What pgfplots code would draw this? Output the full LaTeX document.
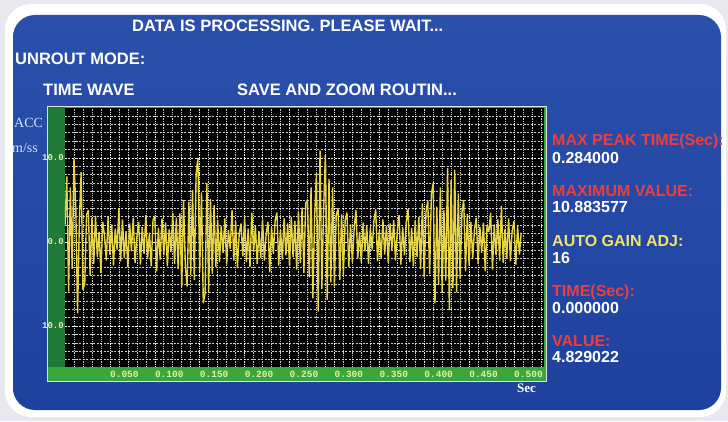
\documentclass[border=0pt]{standalone}
\usepackage{pgfplots}
\pgfplotsset{compat=1.18}
\usepackage{fontspec}
\setmainfont{Liberation Sans}
\setmonofont{Liberation Mono}
\newfontfamily\serifF{Liberation Serif}
\definecolor{bgout}{HTML}{E7E9EF}
\definecolor{panelT}{HTML}{2A50AC}
\definecolor{panelB}{HTML}{1F419E}
\definecolor{gL}{HTML}{1E7A36}
\definecolor{gB}{HTML}{3AA73C}
\definecolor{wave}{HTML}{E6D444}
\definecolor{lbl}{HTML}{E2F0B4}
\definecolor{redT}{HTML}{EC3E3E}
\definecolor{yelT}{HTML}{F2E36C}
\definecolor{accC}{HTML}{D3E1FF}
\begin{document}
\begin{tikzpicture}[x=1pt,y=1pt]
\useasboundingbox (0,0) rectangle (728,421);
\fill[bgout] (0,0) rectangle (728,421);
\fill[white,rounded corners=26pt] (5,4) rectangle (726,417);
\shade[top color=panelT,bottom color=panelB,rounded corners=22pt] (13,11) rectangle (721,406);
\fill[gB] (47,40) rectangle (546,314);
\fill[gL] (47,54) rectangle (65,314);
\draw[white!75!gray, line width=1pt] (47,40) rectangle (546,314);
\begin{axis}[
  at={(65pt,54pt)}, anchor=south west, scale only axis,
  width=479pt, height=259pt,
  xmin=0, xmax=0.5334, ymin=-14.88, ymax=15.95,
  axis line style={draw=none},
  axis background/.style={fill=black},
  major tick length=0pt, minor tick length=0pt,
  xtick={0.05,0.1,0.15,0.2,0.25,0.3,0.35,0.4,0.45,0.5},
  xticklabels={0.050,0.100,0.150,0.200,0.250,0.300,0.350,0.400,0.450,0.500},
  minor xtick={0.01,0.02,...,0.53},
  ytick={-10,0,10},
  yticklabels={10.0,0.0,10.0},
  minor ytick={-14,-13,...,15},
  grid=both,
  major x grid style={white, opacity=0.8, line width=0.6pt, dash pattern=on 1pt off 0.8pt},
  minor x grid style={white, opacity=0.8, line width=0.6pt, dash pattern=on 1pt off 0.8pt},
  major y grid style={white, opacity=0.8, line width=0.6pt, dash pattern=on 2pt off 1.5pt},
  minor y grid style={white, opacity=0.8, line width=0.6pt, dash pattern=on 2pt off 1.5pt},
  xticklabel style={font=\ttfamily\bfseries\fontsize{9.5}{10}\selectfont, text=lbl, anchor=north west, inner sep=0pt, yshift=-3.5pt},
  yticklabel style={font=\ttfamily\bfseries\fontsize{9}{10}\selectfont, text=lbl, anchor=east, inner sep=0pt, xshift=-1pt},
]
\addplot[wave, line width=1.4pt, line join=miter, miter limit=2] coordinates {
(0.000,2.0)(0.002,7.8)(0.004,-5.9)(0.006,6.5)(0.008,-3.2)(0.010,9.9)(0.012,4.1)(0.014,-8.5)(0.016,2.5)(0.018,8.3)
(0.020,-5.7)(0.022,-4.9)(0.024,3.2)(0.026,3.8)(0.028,-4.0)(0.030,2.9)(0.032,-2.6)(0.034,3.1)(0.036,-1.8)(0.038,1.2)
(0.040,-3.7)(0.042,2.4)(0.044,0.8)(0.046,-2.2)(0.048,3.0)(0.050,-1.5)(0.052,2.1)(0.054,-2.8)(0.056,1.6)(0.058,-0.9)
(0.060,4.0)(0.062,-2.3)(0.064,2.7)(0.066,-1.9)(0.068,1.3)(0.070,-3.0)(0.072,2.2)(0.074,-1.1)(0.076,2.9)(0.078,-2.5)
(0.080,0.6)(0.082,2.4)(0.084,-2.7)(0.086,1.8)(0.088,-1.4)(0.090,3.2)(0.092,-2.0)(0.094,1.1)(0.096,-2.9)(0.098,2.6)
(0.100,3.1)(0.102,-3.5)(0.104,1.7)(0.106,-2.1)(0.108,2.8)(0.110,-1.6)(0.112,2.3)(0.114,-2.9)(0.116,1.5)(0.118,-1.2)
(0.120,3.5)(0.122,-2.6)(0.124,2.9)(0.126,-3.2)(0.128,3.4)(0.130,-5.4)(0.132,5.0)(0.134,-2.8)(0.136,-5.3)(0.138,4.8)
(0.140,-3.9)(0.142,6.2)(0.144,-4.5)(0.146,8.1)(0.148,10.0)(0.150,-3.6)(0.152,5.9)(0.154,-7.3)(0.156,-6.1)(0.158,7.0)
(0.160,-6.0)(0.162,5.1)(0.164,-3.8)(0.166,4.4)(0.168,-3.0)(0.170,2.6)(0.172,-2.4)(0.174,1.9)(0.176,-1.3)(0.178,2.8)
(0.180,-2.7)(0.182,1.4)(0.184,-0.8)(0.186,3.8)(0.188,-2.2)(0.190,2.5)(0.192,-3.1)(0.194,1.0)(0.196,2.2)(0.198,-1.7)
(0.200,2.9)(0.202,-2.4)(0.204,1.6)(0.206,-3.0)(0.208,3.5)(0.210,-1.2)(0.212,2.0)(0.214,-2.6)(0.216,1.3)(0.218,-1.9)
(0.220,2.7)(0.222,-2.2)(0.224,0.9)(0.226,2.4)(0.228,-3.6)(0.230,1.8)(0.232,-1.4)(0.234,2.6)(0.236,3.5)(0.238,-2.8)
(0.240,1.5)(0.242,-2.1)(0.244,2.8)(0.246,-1.6)(0.248,2.2)(0.250,-2.9)(0.252,3.0)(0.254,-1.8)(0.256,2.5)(0.258,-3.3)
(0.260,3.6)(0.262,-2.5)(0.264,4.1)(0.266,-3.7)(0.268,4.6)(0.270,5.0)(0.272,-4.2)(0.274,6.5)(0.276,-6.7)(0.278,3.1)
(0.280,8.2)(0.282,-8.3)(0.284,10.9)(0.286,-5.6)(0.288,4.0)(0.290,10.4)(0.292,-6.9)(0.294,7.5)(0.296,-4.8)(0.298,6.5)
(0.300,-5.3)(0.302,3.2)(0.304,4.0)(0.306,-4.5)(0.308,3.3)(0.310,-3.9)(0.312,2.6)(0.314,3.5)(0.316,-3.0)(0.318,2.1)
(0.320,-2.4)(0.322,1.6)(0.324,3.8)(0.326,-1.9)(0.328,1.2)(0.330,-2.5)(0.332,2.3)(0.334,-1.1)(0.336,2.0)(0.338,-2.6)
(0.340,1.7)(0.342,-0.9)(0.344,2.5)(0.346,3.9)(0.348,-2.3)(0.350,1.4)(0.352,-2.0)(0.354,2.7)(0.356,-1.5)(0.358,1.9)
(0.360,-2.5)(0.362,2.2)(0.364,-1.0)(0.366,2.6)(0.368,-2.2)(0.370,1.3)(0.372,3.2)(0.374,-2.7)(0.376,1.8)(0.378,-1.6)
(0.380,2.4)(0.382,3.9)(0.384,-2.4)(0.386,1.7)(0.388,-2.9)(0.390,2.6)(0.392,-1.8)(0.394,3.0)(0.396,-3.2)(0.398,4.6)
(0.400,-4.2)(0.402,3.6)(0.404,4.9)(0.406,-3.8)(0.408,5.7)(0.410,7.0)(0.412,-7.3)(0.414,4.2)(0.416,-5.1)(0.418,6.5)
(0.420,-6.0)(0.422,3.8)(0.424,-4.6)(0.426,8.8)(0.428,-8.1)(0.430,7.4)(0.432,-5.5)(0.434,8.6)(0.436,-6.0)(0.438,5.8)
(0.440,-4.4)(0.442,3.5)(0.444,5.0)(0.446,-3.5)(0.448,3.3)(0.450,-2.8)(0.452,2.4)(0.454,-2.0)(0.456,1.5)(0.458,2.9)
(0.460,-2.6)(0.462,1.8)(0.464,-1.3)(0.466,2.3)(0.468,-3.5)(0.470,2.0)(0.472,1.2)(0.474,3.5)(0.476,-3.3)(0.478,2.1)
(0.480,-1.6)(0.482,2.7)(0.484,-2.2)(0.486,4.3)(0.488,-2.5)(0.490,1.6)(0.492,-1.9)(0.494,2.8)(0.496,-2.3)(0.498,1.4)
(0.500,2.5)(0.502,-2.7)(0.504,1.9)(0.506,-1.5)(0.508,1.1)
};
\end{axis}
\begin{scope}[every node/.style={inner sep=0pt, anchor=base west}]
\node[text=white, font=\bfseries\fontsize{16.5}{18}\selectfont] at (132,389) {DATA IS PROCESSING. PLEASE WAIT...};
\node[text=white, font=\bfseries\fontsize{16.5}{18}\selectfont] at (15,356) {UNROUT MODE:};
\node[text=white, font=\bfseries\fontsize{16.5}{18}\selectfont] at (43,325) {TIME WAVE};
\node[text=white, font=\bfseries\fontsize{16.5}{18}\selectfont] at (237,325) {SAVE AND ZOOM ROUTIN...};
\node[text=accC, font=\serifF\fontsize{14}{15}\selectfont] at (14,293) {ACC};
\node[text=accC, font=\serifF\fontsize{14}{15}\selectfont] at (12,268) {m/ss};
\node[text=white, font=\serifF\bfseries\fontsize{13}{15}\selectfont] at (517,29) {Sec};
\node[text=redT, font=\bfseries\fontsize{16}{18}\selectfont] at (552,275) {MAX PEAK TIME(Sec):};
\node[text=white, font=\bfseries\fontsize{16}{18}\selectfont] at (552,258) {0.284000};
\node[text=redT, font=\bfseries\fontsize{16}{18}\selectfont] at (552,225) {MAXIMUM VALUE:};
\node[text=white, font=\bfseries\fontsize{16}{18}\selectfont] at (552,208) {10.883577};
\node[text=yelT, font=\bfseries\fontsize{16}{18}\selectfont] at (552,175) {AUTO GAIN ADJ:};
\node[text=white, font=\bfseries\fontsize{16}{18}\selectfont] at (552,158) {16};
\node[text=redT, font=\bfseries\fontsize{16}{18}\selectfont] at (552,125) {TIME(Sec):};
\node[text=white, font=\bfseries\fontsize{16}{18}\selectfont] at (552,108) {0.000000};
\node[text=redT, font=\bfseries\fontsize{16}{18}\selectfont] at (552,75) {VALUE:};
\node[text=white, font=\bfseries\fontsize{16}{18}\selectfont] at (552,59) {4.829022};
\end{scope}
\end{tikzpicture}
\end{document}
